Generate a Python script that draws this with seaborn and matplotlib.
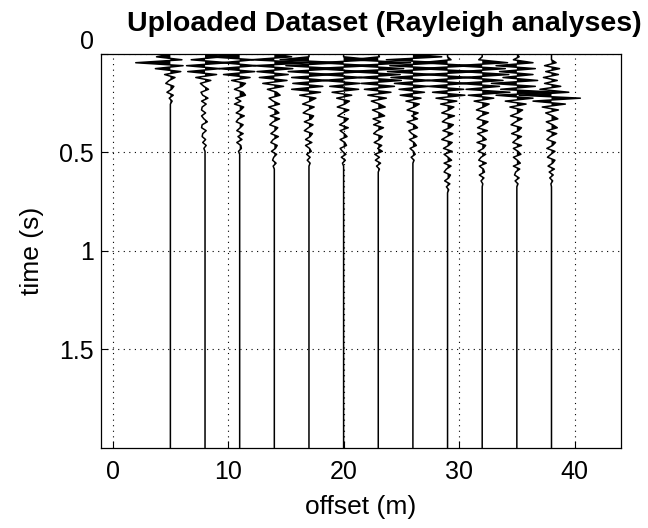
import numpy as np
import pandas as pd
import matplotlib
matplotlib.use("Agg")
import matplotlib.pyplot as plt
import seaborn as sns

sns.set_style("white")
plt.rcParams['font.family'] = ['Liberation Sans', 'DejaVu Sans']
plt.rcParams['text.color'] = 'black'
plt.rcParams['axes.labelcolor'] = 'black'
plt.rcParams['xtick.color'] = 'black'
plt.rcParams['ytick.color'] = 'black'

# receiver offsets (m) and sample interval (s)
offsets = [5, 8, 11, 14, 17, 20, 23, 26, 29, 32, 35, 38]
dt = 0.015
t_max = 2.0

# trace amplitudes in offset units (one sample per dt from t=0)
amp_05 = [0, -1.2, 1.0, -3.0, 1.1, -1.3, 0.9, -0.5, 0.4, -0.1, -0.4, 0.3, 0.1, -0.3, 0.25, -0.1, 0.15, 0]
amp_08 = [0, 1.5, -1.2, 2.0, -1.6, 1.3, -1.5, 1.0, -0.8, 0.5, -0.4, -0.1, 0.3, -0.35, -0.2, 0.25, -0.3,
          0.1, -0.25, -0.3, 0.05, -0.3, -0.1, 0.2, -0.25, -0.3, 0.1, -0.2, -0.25, 0.05, -0.2, 0.1, -0.1, 0]
amp_11 = [0, -2.6, 1.2, -1.5, 1.4, -1.8, 1.3, -1.4, 0.9, -0.7, 0.5, 0.2, -0.45, 0.3, 0.5, -0.35, 0.1,
          -0.45, 0.35, 0.1, -0.3, 0.4, -0.1, -0.3, 0.3, 0.05, -0.25, 0.3, -0.15, 0.2, -0.25, 0.1, 0.15, -0.1, 0]
amp_14 = [0, 1.5, -2.0, 3.2, -1.8, 1.6, -1.5, 1.2, -1.3, 1.1, -1.0, 0.8, -0.6, 0.2, 0.5, -0.45, -0.1,
          0.45, -0.5, 0.1, 0.4, -0.35, 0.45, -0.1, -0.4, 0.3, 0.05, -0.3, 0.35, -0.1, -0.3, 0.25, 0.1,
          -0.25, 0.2, -0.05, -0.15, 0.15, -0.1, 0]
amp_17 = [0, 0, -2.5, 2.8, -2.0, 2.4, -1.8, 2.0, -1.5, 1.6, -1.4, 1.2, -1.5, 1.0, -0.8, 0.6, 0.1,
          -0.55, 0.45, -0.1, -0.5, 0.4, 0.2, -0.4, 0.35, -0.05, -0.4, 0.3, 0.1, -0.3, 0.25, -0.3, 0.05,
          0.2, -0.2, 0.1, -0.15, 0.1, 0]
amp_20 = [0, 0, 2.6, -2.2, 2.4, -2.6, 1.8, -2.0, 1.6, -1.8, 1.4, -1.2, 1.3, -1.0, 0.7, -0.6, 0.5,
          0.1, -0.55, 0.45, -0.1, -0.5, 0.4, 0.1, -0.35, 0.4, -0.3, 0.05, 0.3, -0.3, 0.1, 0.25, -0.3,
          -0.1, 0.2, -0.2, 0.15, -0.1, 0]
amp_23 = [0, 0.1, -2.4, 2.8, -2.2, 2.2, -2.6, 1.9, -1.7, 2.0, -1.5, 1.4, -1.2, 1.1, -0.9, 0.7, -0.6,
          0.1, 0.6, -0.5, 0.1, 0.55, -0.45, 0.2, -0.4, 0.45, -0.1, -0.4, 0.35, 0.1, -0.35, 0.3, -0.05,
          0.35, -0.3, 0.1, -0.25, 0.2, -0.15, 0.1, 0]
amp_26 = [-0.4, 2.5, -2.3, 2.6, -2.0, 2.4, -2.2, 1.8, -1.9, 1.5, -1.6, 1.3, -1.2, 1.0, -1.1, 0.7, -0.6,
          0.55, 0.1, -0.5, 0.45, -0.1, 0.4, -0.5, 0.1, 0.4, -0.35, -0.1, 0.35, -0.3, 0.1, 0.3, -0.25,
          0.05, 0.2, -0.15, 0.1, 0]
amp_29 = [0, 0, 0.3, -2.4, 2.2, -2.5, 2.6, -2.0, 2.0, -1.8, 1.6, -1.7, 1.4, -1.3, 1.5, -1.0, 0.8,
          -0.6, 0.55, 0.1, -0.5, 0.6, -0.1, -0.45, 0.5, 0.2, -0.4, 0.45, -0.05, -0.5, 0.4, 0.1, -0.35,
          0.4, -0.3, 0.05, 0.35, -0.3, 0.3, -0.1, -0.3, 0.25, 0.1, -0.25, 0.2, -0.1, 0.1, 0]
amp_32 = [0, 0, -0.3, 2.2, -2.4, 2.0, -1.8, 2.3, -1.6, 1.8, -2.0, 1.5, -1.4, 2.4, -1.2, 1.0, -0.7,
          0.6, 0.1, -0.5, 0.55, -0.1, -0.45, 0.5, 0.1, -0.4, 0.45, -0.4, 0.05, 0.35, -0.45, 0.3, 0.1,
          -0.35, 0.3, -0.1, -0.3, 0.35, -0.25, 0.1, 0.2, -0.25, 0.15, -0.1, 0.05, 0]
amp_35 = [0, 0.2, -0.3, 1.4, -1.8, 1.6, -1.5, 1.4, -1.2, 1.8, -2.2, 1.6, -1.4, 3.5, -1.8, 1.4, -1.0,
          0.8, -0.6, 0.5, 0.1, -0.55, 0.45, -0.1, -0.5, 0.4, 0.15, -0.45, 0.4, -0.05, -0.35, 0.4, -0.3,
          0.1, 0.35, -0.3, 0.05, 0.3, -0.3, 0.25, -0.1, -0.2, 0.2, -0.15, 0.1, 0]
amp_38 = [0, 0, 0, 0.4, -0.6, 0.7, -0.5, 0.6, -0.7, 0.5, -0.6, 0.8, -1.0, 1.5, -2.8, 2.5, -1.6,
          1.2, -0.8, 0.6, -0.5, 0.1, 0.55, -0.45, 0.1, 0.5, -0.4, 0.45, -0.1, -0.4, 0.35, 0.1, -0.4,
          0.3, -0.05, -0.35, 0.3, 0.1, -0.3, 0.25, -0.2, 0.15, -0.15, 0.1, -0.05, 0]

traces = [amp_05, amp_08, amp_11, amp_14, amp_17, amp_20,
          amp_23, amp_26, amp_29, amp_32, amp_35, amp_38]

xticks = [0, 10, 20, 30, 40]
yticks = [0, 0.5, 1, 1.5]

fig = plt.figure(figsize=(6.48, 5.28), dpi=100)
ax = fig.add_axes([0.156, 0.152, 0.802, 0.746])

for off, amp in zip(offsets, traces):
    a = np.array(amp + [0.0])
    t = np.append(dt * np.arange(len(amp)), t_max)
    df = pd.DataFrame({'x': off + a, 't': t})
    ax.fill_betweenx(t, off, off + a, where=a > 0, color='black', lw=0, interpolate=True)
    ax.fill_betweenx(t, off, off + a, where=a < -1.0, color='black', lw=0, interpolate=True)
    sns.lineplot(data=df, x='x', y='t', sort=False, estimator=None,
                 color='black', lw=1.1, ax=ax)

ax.set_xlim(-1, 44)
ax.set_ylim(2, 0)
ax.set_xticks(xticks)
ax.set_yticks(yticks)
ax.set_xticklabels([str(v) for v in xticks])
ax.set_yticklabels(['0', '0.5', '1', '1.5'])
ax.get_yticklabels()[0].set_va('bottom')
ax.grid(True, color='black', linestyle=(0, (1, 4)), linewidth=0.8)
ax.tick_params(direction='in', length=5, width=0.8, labelsize=18, color='black',
               bottom=True, left=True)
ax.tick_params(axis='x', pad=9)
ax.tick_params(axis='y', pad=5)
for s in ax.spines.values():
    s.set_color('black')
    s.set_linewidth(0.9)

ax.set_xlabel('offset (m)', fontsize=19, labelpad=8)
ax.set_ylabel('time (s)', fontsize=19, labelpad=11)
fig.text(0.593, 0.955, 'Uploaded Dataset (Rayleigh analyses)', ha='center', va='center',
         fontsize=20.5, fontweight='bold')

fig.savefig('out.png', dpi=100)
